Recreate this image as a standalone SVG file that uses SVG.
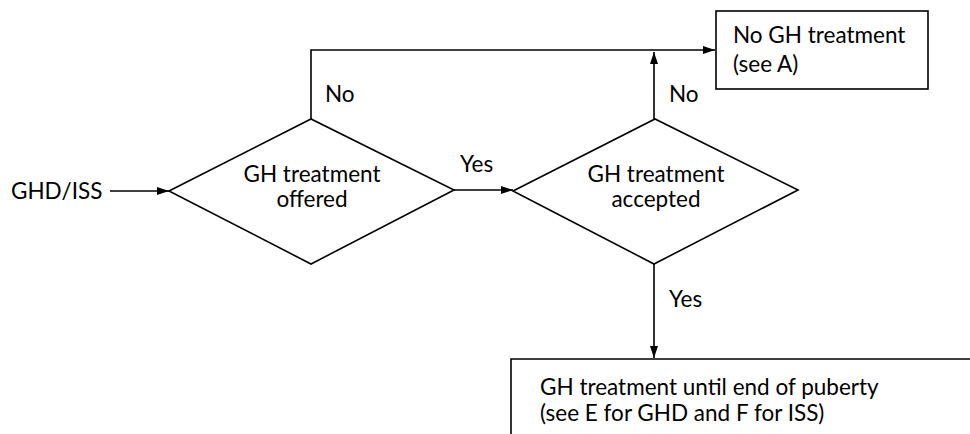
<svg xmlns="http://www.w3.org/2000/svg" width="970" height="434" viewBox="0 0 970 434">
<style>
.s{fill:#fff;stroke:#000;stroke-width:1.6}
.c{fill:none;stroke:#000;stroke-width:1.6}
text{font-family:Lato,"Open Sans","Liberation Sans",sans-serif;font-size:22.5px;fill:#000}
.m{text-anchor:middle}
</style>
<defs>
<marker id="a" markerWidth="12" markerHeight="8" refX="12" refY="4" orient="auto" markerUnits="userSpaceOnUse">
<path d="M0,0 L12,4 L0,8 Z" fill="#000"/>
</marker>
</defs>
<rect width="970" height="434" fill="#fff"/>
<g id="start"><text x="11" y="199">GHD/ISS</text></g>
<g id="offered">
<polygon class="s" points="169,191 311,119 454,190 311,264"/>
<text class="m" x="312" y="182">GH treatment</text>
<text class="m" x="312" y="207">offered</text>
</g>
<g id="accepted">
<polygon class="s" points="513,191 655,119 798,190 654,264"/>
<text class="m" x="656" y="182">GH treatment</text>
<text class="m" x="656" y="207">accepted</text>
</g>
<g id="notreat">
<rect class="s" x="716" y="11" width="212" height="78"/>
<text x="733" y="43">No GH treatment</text>
<text x="733" y="72">(see A)</text>
</g>
<g id="treat">
<path class="c" d="M511,434 V359 H970"/>
<text x="540" y="395">GH treatment until end of puberty</text>
<text x="540" y="421">(see E for GHD and F for ISS)</text>
</g>
<g id="connectors">
<line class="c" x1="110" y1="191" x2="169" y2="191" marker-end="url(#a)"/>
<line class="c" x1="454" y1="190" x2="513" y2="190" marker-end="url(#a)"/>
<polyline class="c" points="311,119 311,50 715,50" marker-end="url(#a)"/>
<line class="c" x1="654" y1="119" x2="654" y2="52" marker-end="url(#a)"/>
<line class="c" x1="654" y1="264" x2="654" y2="358" marker-end="url(#a)"/>
<text x="325" y="102">No</text>
<text x="669" y="102">No</text>
<text x="460" y="172">Yes</text>
<text x="669" y="307">Yes</text>
</g>
</svg>
